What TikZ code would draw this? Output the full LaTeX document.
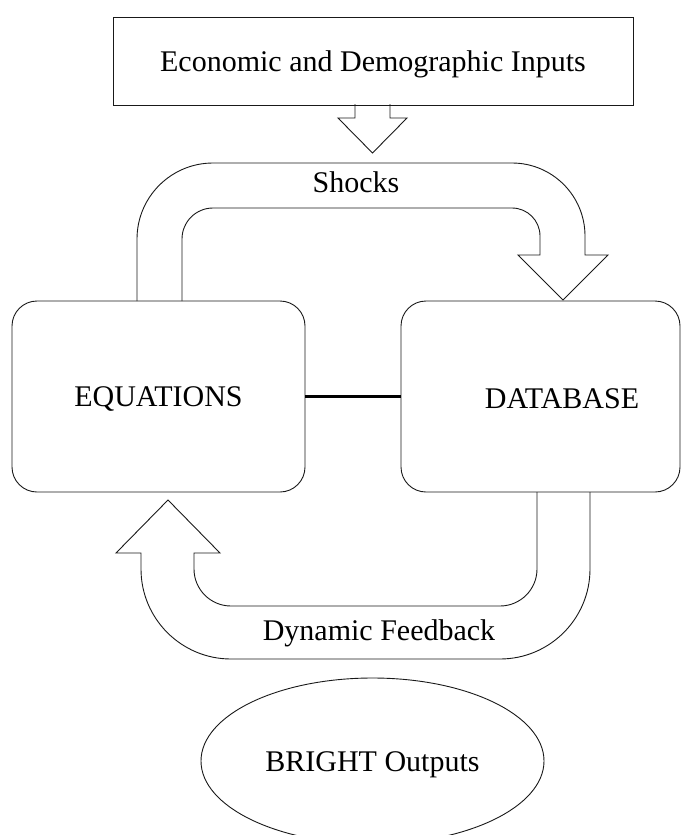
\documentclass[tikz,border=0pt]{standalone}
\usepackage{fontspec}
\setmainfont{Liberation Serif}
\usetikzlibrary{shapes.geometric}
\begin{document}
\begin{tikzpicture}[x=1pt,y=-1pt]
\tikzset{
  outline/.style={draw=black!90, line width=0.9pt},
  lbl/.style={font=\fontsize{30}{36}\selectfont, text height=20pt, text depth=0pt},
  box/.style={outline, rectangle, rounded corners=25pt, inner sep=0pt, lbl},
  link/.style={line width=2.6pt, black},
  blockarrow/.style={outline, line join=miter}
}
\useasboundingbox (0,0) rectangle (681,835);

% nodes
\node[outline, rectangle, inner sep=0pt, minimum width=520pt, minimum height=88pt, lbl] (inputs) at (373,61) {Economic and Demographic Inputs};
\node[box, minimum width=293pt, minimum height=191pt] (eq) at (158.5,396.5) {EQUATIONS};
\node[box, minimum width=279pt, minimum height=191pt] (db) at (540.5,396.5) {};
\node[lbl, inner sep=0pt] (dbtext) at (562,398) {DATABASE};
\node[outline, ellipse, inner sep=0pt, minimum width=343pt, minimum height=166pt, lbl] (out) at (372.5,761) {BRIGHT Outputs};
\node[lbl, inner sep=0pt] (shocks) at (356,182) {Shocks};
\node[lbl, inner sep=0pt] (feedback) at (379,630) {Dynamic Feedback};

% link between equations and database
\draw[link] (eq.east) -- (db.west);

% down arrow from inputs
\draw[blockarrow] (355,104) -- (355,118) -- (338,118) -- (372.5,153) -- (407,118) -- (390,118) -- (390,104);

% shocks arrow (equations -> database)
\draw[blockarrow] (137,301) -- (137,239) arc[start angle=180, end angle=270, radius=76]
  -- (512,163) arc[start angle=270, end angle=360, radius=73]
  -- (585,255) -- (608,255) -- (563,300) -- (518,255) -- (540,255)
  -- (540,236) arc[start angle=0, end angle=-90, radius=28]
  -- (213,208) arc[start angle=270, end angle=180, radius=31]
  -- (182,301);

% dynamic feedback arrow (database -> equations)
\draw[blockarrow] (590,492) -- (590,569) arc[start angle=0, end angle=90, radius=90]
  -- (231,659) arc[start angle=90, end angle=180, radius=90]
  -- (141,553) -- (116,553) -- (168,500) -- (220,553) -- (194,553)
  -- (194,569) arc[start angle=180, end angle=90, radius=37]
  -- (500,606) arc[start angle=90, end angle=0, radius=37]
  -- (537,492);
\end{tikzpicture}
\end{document}
